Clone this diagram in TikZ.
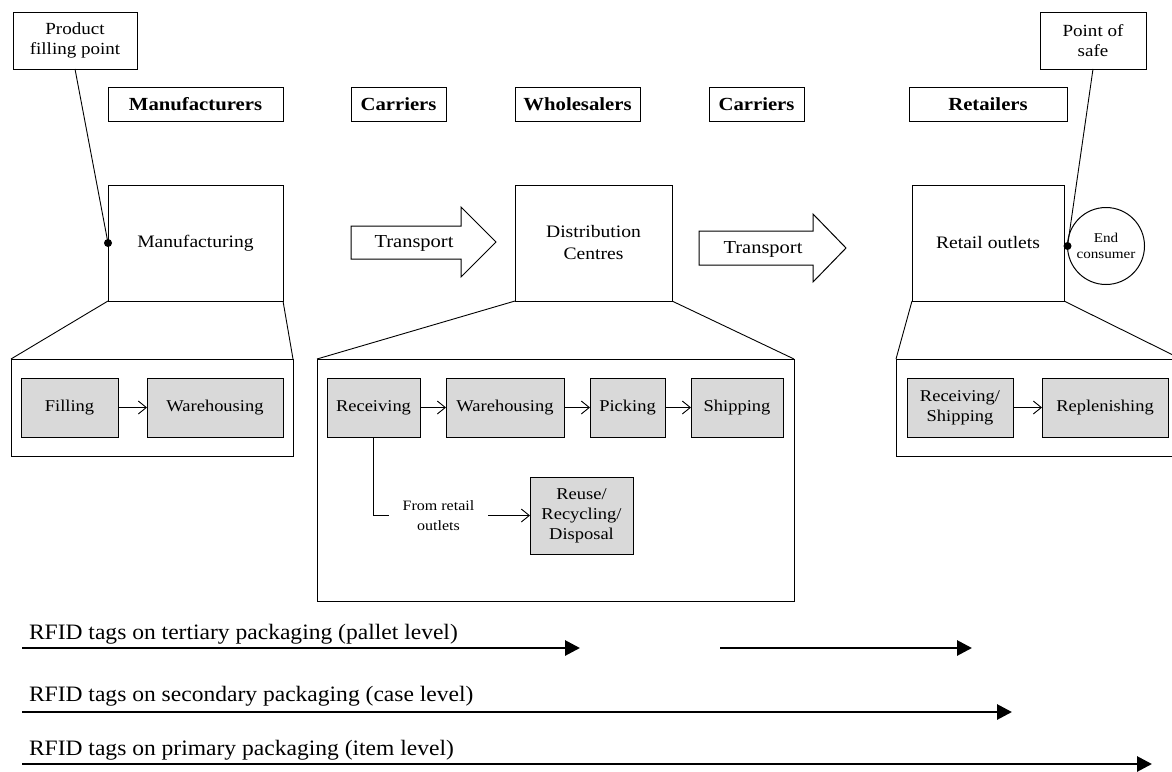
\documentclass[tikz,border=0pt]{standalone}
\usepackage{fontspec}
\setmainfont[FakeStretch=1.12]{Liberation Serif}
\newfontfamily\rfidfont[FakeStretch=1.07]{Liberation Serif}
\usetikzlibrary{arrows.meta}
\definecolor{stepgray}{HTML}{D9D9D9}
\tikzset{
  every node/.style={outer sep=0pt},
  plainbox/.style={draw, line width=1pt, inner sep=0pt, align=center, font=\fontsize{17.5}{22}\selectfont},
  headbox/.style={draw, line width=1pt, inner sep=0pt, minimum height=34pt, font=\fontsize{18.5}{20}\selectfont\bfseries},
  callout/.style={draw, line width=1pt, inner sep=0pt, align=center, minimum height=57pt, font=\fontsize{17}{20}\selectfont},
  stepbox/.style={draw, fill=stepgray, line width=1pt, inner sep=0pt, align=center, minimum height=59pt, font=\fontsize{16.5}{20}\selectfont},
  frame/.style={draw, line width=1pt, inner sep=0pt},
  flow/.style={line width=0.9pt, -{Straight Barb[length=8pt,width=13pt,line width=0.9pt]}},
  thin/.style={line width=0.9pt},
  rfid/.style={line width=2.8pt, -{Triangle[length=15pt,width=15pt]}},
  rfidtext/.style={anchor=base west, inner sep=0pt, font=\rfidfont\fontsize{22}{24}\selectfont},
  bigarrow/.style={draw, line width=1pt, fill=white},
  dot/.style={circle, fill=black, inner sep=0pt, minimum size=8pt},
}
\begin{document}
\begin{tikzpicture}[x=1pt, y=-1pt]
\useasboundingbox (0,0) rectangle (1172,771);
\clip (0,0) rectangle (1172,771);

% callouts
\node[callout, minimum width=124pt] (pfp) at (75,40.5) {Product\\filling point};
\node[callout, minimum width=106pt] (pos) at (1093,40.5) {Point of\\safe};

% actor headers
\node[headbox, minimum width=175pt] (hman) at (195.5,104) {Manufacturers};
\node[headbox, minimum width=95pt]  (hcar1) at (398.5,104) {Carriers};
\node[headbox, minimum width=125pt] (hwho) at (577.5,104) {Wholesalers};
\node[headbox, minimum width=95pt]  (hcar2) at (756.5,104) {Carriers};
\node[headbox, minimum width=158pt] (hret) at (988,104) {Retailers};

% main stages
\node[plainbox, minimum width=175pt, minimum height=116pt] (manu) at (195.5,243) {Manufacturing};
\node[plainbox, minimum width=157pt, minimum height=116pt] (dc) at (593.5,243) {Distribution\\Centres};
\node[plainbox, minimum width=152pt, minimum height=116pt] (ro) at (988,243) {Retail outlets};
\node[draw, circle, line width=1pt, inner sep=0pt, minimum size=77pt, align=center,
      font=\fontsize{13.5}{16}\selectfont] (ec) at (1106,246) {End\\consumer};

% transport arrows
\draw[bigarrow] (351,226) -- (461,226) -- (461,207) -- (496,242) -- (461,277) -- (461,259) -- (351,259) -- cycle;
\node[font=\fontsize{18.3}{20}\selectfont, inner sep=0pt] (tr1) at (414,243) {Transport};
\draw[bigarrow] (699,231) -- (813,231) -- (813,214) -- (846,248) -- (813,282) -- (813,265) -- (699,265) -- cycle;
\node[font=\fontsize{18.3}{20}\selectfont, inner sep=0pt] (tr2) at (763,249) {Transport};

% callout leaders
\node[dot] (d1) at (manu.west) {};
\node[dot] (d2) at (ec.west) {};
\draw[thin] (pfp.south) -- (d1.center);
\draw[thin] (pos.south) -- (d2.center);

% detail frames
\node[frame, minimum width=282pt, minimum height=97pt] (lbox) at (152,407.5) {};
\node[frame, minimum width=477pt, minimum height=242pt] (mbox) at (555.5,480) {};
\node[frame, minimum width=294pt, minimum height=97pt] (rbox) at (1043,407.5) {};
\coordinate (rtop) at (1180,358.5);

\draw[thin] (manu.south west) -- (lbox.north west);
\draw[thin] (manu.south east) -- (lbox.north east);
\draw[thin] (dc.south west) -- (mbox.north west);
\draw[thin] (dc.south east) -- (mbox.north east);
\draw[thin] (ro.south west) -- (rbox.north west);
\draw[thin] (ro.south east) -- (rtop);

% manufacturer steps
\node[stepbox, minimum width=97pt] (fill) at (69.5,407.5) {Filling};
\node[stepbox, minimum width=136pt] (wh1) at (215,407.5) {Warehousing};
\draw[flow] (fill) -- (wh1);

% distribution centre steps
\node[stepbox, minimum width=93pt] (recv) at (373.5,407.5) {Receiving};
\node[stepbox, minimum width=118pt] (wh2) at (505,407.5) {Warehousing};
\node[stepbox, minimum width=75pt] (pick) at (627.5,407.5) {Picking};
\node[stepbox, minimum width=92pt] (ship) at (737,407.5) {Shipping};
\node[stepbox, minimum width=103pt, minimum height=77pt] (reuse) at (581.5,515.5) {Reuse/\\Recycling/\\Disposal};
\draw[flow] (recv) -- (wh2);
\draw[flow] (wh2) -- (pick);
\draw[flow] (pick) -- (ship);
\node[inner sep=0pt, minimum width=99pt, align=center, font=\fontsize{14.3}{20}\selectfont] (frt) at (438.5,515.5) {From retail\\outlets};
\draw[thin] (recv.south) |- (frt.west);
\draw[flow] (frt.east) -- (reuse.west);

% retailer steps
\node[stepbox, minimum width=106pt] (rs) at (960,407.5) {Receiving/\\Shipping};
\node[stepbox, minimum width=126pt] (rep) at (1105,407.5) {Replenishing};
\draw[flow] (rs) -- (rep);

% RFID tagging levels
\node[rfidtext] (t1) at (29,639) {RFID tags on tertiary packaging (pallet level)};
\node[rfidtext] (t2) at (29,701) {RFID tags on secondary packaging (case level)};
\node[rfidtext] (t3) at (29,755) {RFID tags on primary packaging (item level)};
\coordinate (a1s) at (22,648);  \coordinate (a1e) at (580,648);
\coordinate (a2s) at (720,648); \coordinate (a2e) at (972,648);
\coordinate (b1s) at (22,712);  \coordinate (b1e) at (1012,712);
\coordinate (c1s) at (22,764);  \coordinate (c1e) at (1152,764);
\draw[rfid] (a1s) -- (a1e);
\draw[rfid] (a2s) -- (a2e);
\draw[rfid] (b1s) -- (b1e);
\draw[rfid] (c1s) -- (c1e);
\end{tikzpicture}
\end{document}
